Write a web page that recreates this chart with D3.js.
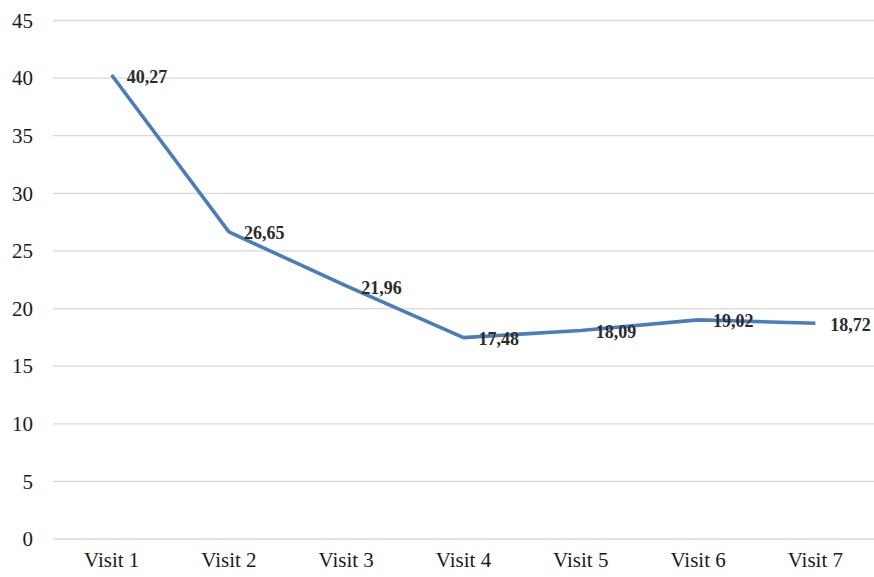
<!DOCTYPE html>
<html lang="en">
<head>
    <meta charset="UTF-8">
    <title>Visits</title>
    <script src="https://d3js.org/d3.v7.min.js"></script>
    <style>
        body { margin: 0; background: #fff; }
    </style>
</head>
<body>
    <svg width="874" height="577"></svg>

    <script>
        // Data
        const visits = ["Visit 1", "Visit 2", "Visit 3", "Visit 4", "Visit 5", "Visit 6", "Visit 7"];
        const values = [40.27, 26.65, 21.96, 17.48, 18.09, 19.02, 18.72];
        const yTicks = [0, 5, 10, 15, 20, 25, 30, 35, 40, 45];

        const svg = d3.select("svg");
        const plotLeft = 53, plotRight = 874, plotTop = 20.5, plotBottom = 539;
        const serif = "'Liberation Serif', 'Times New Roman', serif";

        const xScale = d3.scaleBand().domain(visits).range([plotLeft, plotRight]);
        const yScale = d3.scaleLinear().domain([0, 45]).range([plotBottom, plotTop]);

        // Gridlines
        svg.append("g")
            .selectAll("line")
            .data(yTicks)
            .join("line")
            .attr("x1", plotLeft)
            .attr("x2", plotRight)
            .attr("y1", d => yScale(d))
            .attr("y2", d => yScale(d))
            .attr("stroke", "#d9d9d9")
            .attr("stroke-width", 1.3);

        // Y axis labels
        const yAxis = svg.append("g")
            .attr("transform", `translate(${plotLeft},0)`)
            .call(d3.axisLeft(yScale).tickValues(yTicks).tickSize(0).tickPadding(20));
        yAxis.attr("font-family", serif);
        yAxis.select(".domain").remove();
        yAxis.selectAll("text")
            .style("font-family", serif)
            .style("font-size", "21px")
            .style("fill", "#1a1a1a");

        // X axis labels
        const xAxis = svg.append("g")
            .attr("transform", `translate(0,${plotBottom})`)
            .call(d3.axisBottom(xScale).tickSize(0).tickPadding(13));
        xAxis.attr("font-family", serif);
        xAxis.select(".domain").remove();
        xAxis.selectAll("text")
            .style("font-family", serif)
            .style("font-size", "21px")
            .style("fill", "#1a1a1a");

        const cx = d => xScale(d) + xScale.bandwidth() / 2;

        // Line
        const line = d3.line()
            .x((d, i) => cx(visits[i]))
            .y(d => yScale(d));

        svg.append("path")
            .datum(values)
            .attr("d", line)
            .attr("fill", "none")
            .attr("stroke", "#4a7ebb")
            .attr("stroke-width", 3.6)
            .attr("stroke-linejoin", "round");

        // Data labels
        svg.append("g")
            .selectAll("text")
            .data(values)
            .join("text")
            .attr("x", (d, i) => cx(visits[i]) + 15)
            .attr("y", d => yScale(d))
            .attr("dy", "0.42em")
            .text(d => d.toFixed(2).replace(".", ","))
            .style("font-family", serif)
            .style("font-weight", "bold")
            .style("font-size", "18px")
            .style("fill", "#2b2b2b");
    </script>
</body>
</html>
